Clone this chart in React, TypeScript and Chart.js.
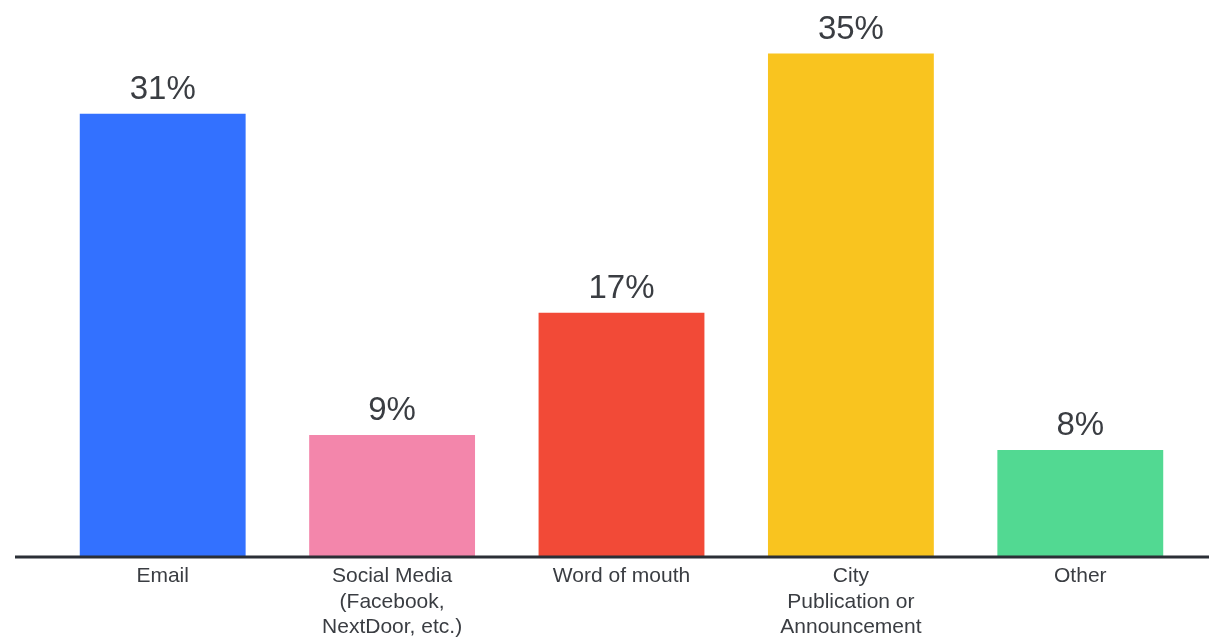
import React, { useEffect, useRef } from "react";
import { Chart, registerables } from "chart.js";

Chart.register(...registerables);

const categories: string[][] = [
  ["Email"],
  ["Social Media", "(Facebook,", "NextDoor, etc.)"],
  ["Word of mouth"],
  ["City", "Publication or", "Announcement"],
  ["Other"],
];
const values: number[] = [30.9, 8.45, 17, 35.1, 7.4];
const valueLabels: string[] = ["31%", "9%", "17%", "35%", "8%"];
const colors: string[] = ["#3371FF", "#F386AB", "#F24A37", "#F9C41F", "#52D992"];

export default function App() {
  const ref = useRef<HTMLCanvasElement | null>(null);

  useEffect(() => {
    document.body.style.margin = "0";
    if (!ref.current) return;

    const axisLine = {
      id: "axisLine",
      afterDatasetsDraw(chart: any) {
        const ctx = chart.ctx;
        const y = chart.scales.y.getPixelForValue(0);
        ctx.save();
        ctx.strokeStyle = "#2b2f36";
        ctx.lineWidth = 3;
        ctx.beginPath();
        ctx.moveTo(15, y + 1);
        ctx.lineTo(chart.width, y + 1);
        ctx.stroke();
        ctx.restore();
      },
    };

    const valueLabelPlugin = {
      id: "valueLabels",
      afterDatasetsDraw(chart: any) {
        const ctx = chart.ctx;
        const meta = chart.getDatasetMeta(0);
        ctx.save();
        ctx.fillStyle = "#3a3d42";
        ctx.font = "33px 'Liberation Sans', Arial, sans-serif";
        ctx.textAlign = "center";
        ctx.textBaseline = "alphabetic";
        meta.data.forEach((bar: any, i: number) => {
          ctx.fillText(valueLabels[i], bar.x, bar.y - 15);
        });
        ctx.restore();
      },
    };

    const chart = new Chart(ref.current, {
      type: "bar",
      data: {
        labels: categories,
        datasets: [
          {
            data: values,
            backgroundColor: colors,
            borderWidth: 0,
            categoryPercentage: 1,
            barPercentage: 0.723,
          },
        ],
      },
      options: {
        animation: false,
        responsive: false,
        maintainAspectRatio: false,
        layout: { padding: { top: 12, left: 48, right: 14, bottom: 0 } },
        plugins: {
          legend: { display: false },
          tooltip: { enabled: false },
        },
        scales: {
          x: {
            grid: { display: false, drawTicks: false },
            border: { display: false },
            ticks: {
              color: "#3a3d42",
              padding: 8,
              autoSkip: false,
              maxRotation: 0,
              font: { family: "'Liberation Sans', Arial, sans-serif", size: 21, lineHeight: 1.2 },
            },
            afterFit(scale: any) {
              scale.height = 85;
            },
          },
          y: {
            display: false,
            min: 0,
            max: 38,
            grid: { display: false },
          },
        },
      },
      plugins: [axisLine, valueLabelPlugin],
    });

    return () => chart.destroy();
  }, []);

  return (
    <div style={{ width: 1209, height: 641, background: "#fff" }}>
      <canvas ref={ref} width={1209} height={641} style={{ display: "block" }} />
    </div>
  );
}
